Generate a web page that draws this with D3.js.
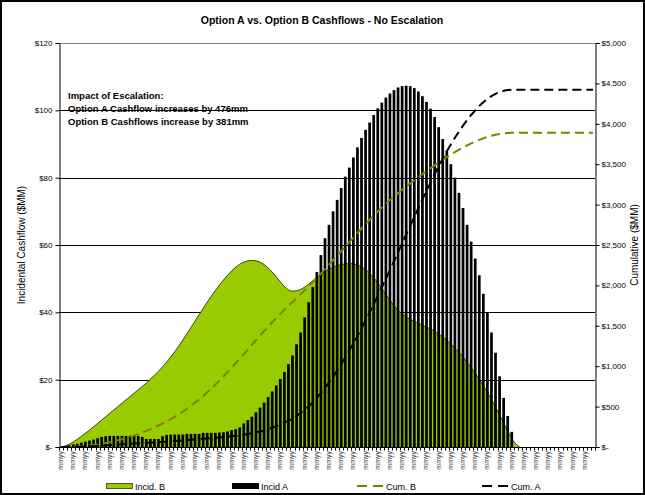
<!DOCTYPE html>
<html><head><meta charset="utf-8">
<script src="https://cdn.jsdelivr.net/npm/d3@7"></script>
<style>
body{margin:0;background:#fff}
svg{display:block}
text{font-family:"Liberation Sans",Arial,sans-serif}
</style>
</head><body>
<svg id="c" width="645" height="495"></svg>
<script>
// ---------- DATA ----------
const N_CATS = 132;
const categories = d3.range(N_CATS);           // monthly periods, all labelled "mmyy"
const tickLabel = "mmyy";
const leftTicks = [0, 20, 40, 60, 80, 100, 120];
const leftTickLabels = ["$-", "$20", "$40", "$60", "$80", "$100", "$120"];
const rightTicks = [0, 500, 1000, 1500, 2000, 2500, 3000, 3500, 4000, 4500, 5000];
const rightTickLabels = ["$-", "$500", "$1,000", "$1,500", "$2,000", "$2,500", "$3,000", "$3,500", "$4,000", "$4,500", "$5,000"];

const incidA = [
0,0.3,0.5,0.8,1.0,1.3,1.6,1.9,2.2,2.6,3.0,3.2,3.3,3.3,3.3,3.3,3.3,3.3,3.3,3.3,
3.0,2.4,2.4,2.4,2.4,3.2,3.6,3.7,3.7,3.7,3.7,3.9,3.9,3.9,3.9,4.2,4.2,4.2,4.2,4.3,
4.4,4.6,5.0,5.3,5.8,7.0,8.0,9.0,10.3,11.7,13.2,14.8,16.5,18.3,20.2,22.3,24.6,27.2,30.5,34.0,
38.5,43.0,47.5,52.0,57.0,62.0,66.0,70.0,73.4,76.9,80.3,83.0,86.0,89.0,91.8,94.2,96.4,98.6,100.6,102.3,
103.8,105.0,106.0,106.8,107.2,107.3,107.2,106.6,105.6,104.2,102.5,100.5,98.0,95.0,91.5,88.0,84.0,80.0,75.5,71.0,
66.0,61.0,56.0,51.0,45.5,40.0,34.0,28.0,21.0,14.6,9.2,4.5,0,0,0,0,0,0,0,0,
0,0,0,0,0,0,0,0,0,0,0,0];

const incidB = [
0,0.3,0.8,1.5,2.3,3.2,4.1,5.0,6.0,7.0,8.0,9.0,10.0,11.0,12.0,13.0,14.0,15.0,16.0,17.0,
18.0,19.0,20.2,21.3,22.5,23.8,25.2,26.7,28.3,30.0,31.8,33.6,35.5,37.4,39.3,41.2,43.0,44.8,46.5,48.1,
49.6,51.0,52.3,53.4,54.3,54.9,55.3,55.4,55.3,54.9,54.2,53.2,52.0,50.6,49.1,47.7,46.7,46.3,46.4,46.8,
47.5,48.4,49.4,50.4,51.3,52.1,52.8,53.4,53.9,54.2,54.4,54.5,54.4,54.1,53.5,52.7,51.6,50.3,48.8,47.1,
45.3,43.6,42.0,40.6,39.5,38.6,37.9,37.3,36.8,36.2,35.6,35.1,34.4,33.6,32.7,31.7,30.6,29.4,28.1,26.7,
25.2,23.6,21.9,20.1,18.2,16.2,14.1,11.9,9.6,7.2,4.8,2.6,0.9,0,null,null,null,null,null,null,
null,null,null,null,null,null,null,null,null,null,null,null];

const cumA = [
0,0,1,2,3,4,6,8,10,13,16,19,22,26,29,33,36,39,43,46,
49,52,54,57,59,62,66,70,74,78,81,85,89,93,97,102,106,110,115,119,
124,128,134,139,145,152,160,170,180,192,206,221,238,257,278,301,326,354,386,421,
460,505,554,607,666,730,798,870,945,1025,1107,1193,1281,1373,1468,1565,1664,1765,1869,1974,
2081,2189,2299,2409,2519,2630,2740,2850,2959,3066,3171,3275,3376,3474,3568,3659,3745,3828,3905,3978,
4047,4109,4167,4220,4266,4308,4343,4371,4393,4408,4418,4422,4422,4422,4422,4422,4422,4422,4422,4422,
4422,4422,4422,4422,4422,4422,4422,4422,4422,4422,4422,4422];

const cumB = [
0,0,1,3,5,8,13,18,24,31,40,49,59,71,83,97,111,127,143,161,
180,200,220,243,266,291,317,345,374,405,438,473,510,549,589,632,677,723,772,821,
873,926,980,1036,1092,1149,1206,1264,1321,1378,1435,1490,1544,1596,1647,1697,1745,1793,1841,1890,
1939,1990,2041,2093,2146,2200,2255,2311,2367,2423,2479,2536,2592,2649,2704,2759,2812,2865,2915,2964,
3011,3056,3100,3142,3183,3223,3263,3301,3339,3377,3414,3450,3486,3521,3555,3588,3620,3650,3679,3707,
3733,3758,3780,3801,3820,3837,3852,3864,3874,3881,3886,3889,3890,3890,3890,3890,3890,3890,3890,3890,
3890,3890,3890,3890,3890,3890,3890,3890,3890,3890,3890,3890];

const title = "Option A vs. Option B Cashflows - No Escalation";
const leftTitle = "Incidental Cashflow ($MM)";
const rightTitle = "Cumulative ($MM)";
const noteLines = ["Impact of Escalation:", "Option A Cashflow increases by 476mm", "Option B Cashflows increase by 381mm"];
const legendItems = [
  {key: "Incid. B", type: "area"},
  {key: "Incid A", type: "bar"},
  {key: "Cum. B", type: "cumB"},
  {key: "Cum. A", type: "cumA"}
];

// ---------- LAYOUT ----------
const svg = d3.select("#c");
const plot = {l: 59, r: 595, t: 43, b: 447};
const green = "#99cc00", olive = "#808000";

const x = d3.scaleBand().domain(categories).range([plot.l, plot.r]).paddingInner(0.33).paddingOuter(0.165);
const xc = i => x(i) + x.bandwidth() / 2;
const yL = d3.scaleLinear().domain([0, 120]).range([plot.b, plot.t]);
const yR = d3.scaleLinear().domain([0, 5000]).range([plot.b, plot.t]);

// outer frame
svg.append("rect").attr("x", 1).attr("y", 1).attr("width", 643).attr("height", 493)
  .attr("fill", "#fff").attr("stroke", "#000").attr("stroke-width", 2);

// title
svg.append("text").attr("x", 322).attr("y", 24).attr("text-anchor", "middle")
  .attr("font-size", 10.5).attr("font-weight", "bold").text(title);

// annotation (under gridlines)
svg.append("g").selectAll("text").data(noteLines).join("text")
  .attr("x", 68).attr("y", (d, i) => 99 + i * 13)
  .attr("font-size", 9.5).attr("font-weight", "bold").text(d => d);

// gridlines
svg.append("g").selectAll("line").data(leftTicks.filter(t => t > 0 && t < 120)).join("line")
  .attr("x1", plot.l).attr("x2", plot.r)
  .attr("y1", d => Math.round(yL(d)) + 0.5).attr("y2", d => Math.round(yL(d)) + 0.5)
  .attr("stroke", "#000").attr("stroke-width", 1);
svg.append("line").attr("x1", plot.l).attr("x2", plot.r).attr("y1", plot.t + 0.5).attr("y2", plot.t + 0.5)
  .attr("stroke", "#808080");

// Incid B area
const area = d3.area().defined(d => d[1] != null)
  .x(d => xc(d[0])).y0(yL(0)).y1(d => yL(d[1])).curve(d3.curveMonotoneX);
const bData = categories.map(i => [i, incidB[i]]);
svg.append("path").datum(bData).attr("d", area).attr("fill", green);
svg.append("path").datum(bData)
  .attr("d", d3.line().defined(d => d[1] != null).x(d => xc(d[0])).y(d => yL(d[1])).curve(d3.curveMonotoneX))
  .attr("fill", "none").attr("stroke", "#1a1a00").attr("stroke-width", 0.8);

// Incid A bars
svg.append("g").selectAll("rect").data(categories.filter(i => incidA[i] > 0)).join("rect")
  .attr("x", i => x(i)).attr("width", x.bandwidth())
  .attr("y", i => yL(incidA[i])).attr("height", i => yL(0) - yL(incidA[i]))
  .attr("fill", "#000");

// cumulative lines
const cumLine = arr => d3.line().x(i => xc(i)).y(i => yR(arr[i]))(categories);
svg.append("path").attr("d", cumLine(cumB)).attr("fill", "none")
  .attr("stroke", olive).attr("stroke-width", 2).attr("stroke-dasharray", "9,5");
svg.append("path").attr("d", cumLine(cumA)).attr("fill", "none")
  .attr("stroke", "#000").attr("stroke-width", 2).attr("stroke-dasharray", "9,5");

// left axis
const gL = svg.append("g").attr("transform", `translate(${plot.l + 0.5},0)`)
  .call(d3.axisLeft(yL).tickValues(leftTicks).tickSize(4).tickFormat((d, i) => leftTickLabels[i]));
// right axis
const gR = svg.append("g").attr("transform", `translate(${plot.r + 0.5},0)`)
  .call(d3.axisRight(yR).tickValues(rightTicks).tickSize(4).tickFormat((d, i) => rightTickLabels[i]));
[gL, gR].forEach(g => {
  g.select(".domain").attr("stroke", "#000");
  g.selectAll(".tick line").attr("stroke", "#000");
  g.selectAll(".tick text").attr("font-size", 8).attr("font-family", '"Liberation Sans",Arial,sans-serif').attr("fill", "#000");
});
gL.selectAll(".tick text").attr("x", -7);
gR.selectAll(".tick text").attr("x", 6);

// bottom axis
svg.append("line").attr("x1", plot.l).attr("x2", plot.r + 1).attr("y1", plot.b + 0.5).attr("y2", plot.b + 0.5).attr("stroke", "#000");
const bounds = categories.map(i => x(i) - x.step() * x.paddingInner() / 2).concat([plot.r]);
svg.append("g").selectAll("line").data(bounds).join("line")
  .attr("x1", d => Math.round(d) + 0.5).attr("x2", d => Math.round(d) + 0.5)
  .attr("y1", plot.b).attr("y2", plot.b + 3.5).attr("stroke", "#000");
svg.append("g").selectAll("text").data(categories.filter(i => i % 3 === 0)).join("text")
  .attr("transform", i => `translate(${xc(i) + 2},451) rotate(-90)`)
  .attr("text-anchor", "end").attr("font-size", 7).attr("fill", "#333").text(tickLabel);

// axis titles
svg.append("text").attr("transform", "translate(25,245) rotate(-90)").attr("text-anchor", "middle")
  .attr("font-size", 10).text(leftTitle);
svg.append("text").attr("transform", "translate(638,245) rotate(-90)").attr("text-anchor", "middle")
  .attr("font-size", 10).text(rightTitle);

// legend
const legX = [106, 232, 357, 482];
const lg = svg.append("g").selectAll("g").data(legendItems).join("g")
  .attr("transform", (d, i) => `translate(${legX[i]},486)`);
lg.each(function(d) {
  const g = d3.select(this);
  if (d.type === "area") g.append("rect").attr("x", 0.5).attr("y", -2.5).attr("width", 26).attr("height", 5).attr("fill", green).attr("stroke", "#333").attr("stroke-width", 0.8);
  else if (d.type === "bar") g.append("rect").attr("x", 0).attr("y", -3).attr("width", 27).attr("height", 6).attr("fill", "#000");
  else g.append("line").attr("x1", 0).attr("x2", 27).attr("y1", 0).attr("y2", 0)
    .attr("stroke", d.type === "cumB" ? olive : "#000").attr("stroke-width", 2).attr("stroke-dasharray", "10,6");
  g.append("text").attr("x", 29).attr("y", 3.5).attr("font-size", 9).text(d.key);
});
</script>
</body></html>
